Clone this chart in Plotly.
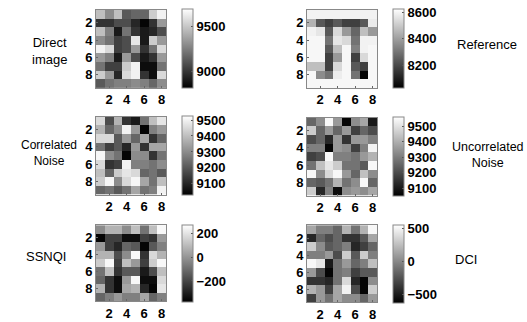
import plotly.graph_objects as go

W, H = 527, 322

direct_image = [
    [9470, 9294, 9470, 9118, 9162, 9162, 9514, 9646],
    [8986, 8986, 9074, 9074, 8942, 8828, 8986, 9338],
    [9470, 9250, 8898, 9206, 8986, 8898, 8942, 9074],
    [9294, 9206, 9030, 9074, 9602, 8898, 9514, 9338],
    [9646, 9558, 9030, 9074, 9338, 8986, 9206, 9558],
    [9338, 9250, 8898, 9338, 9074, 8898, 8986, 9338],
    [9206, 9030, 9030, 9514, 9646, 8854, 8854, 9206],
    [9514, 9338, 8942, 9558, 9646, 8986, 8854, 9558],
    [9118, 9206, 9250, 9250, 9294, 9250, 9162, 9294],
]
reference = [
    [8590, 8590, 8590, 8590, 8590, 8590, 8590, 8590],
    [8443, 8236, 8178, 8236, 8178, 8178, 8236, 8573],
    [8590, 8561, 8236, 8532, 8384, 8266, 8472, 8384],
    [8602, 8602, 8296, 8561, 8532, 8296, 8590, 8590],
    [8602, 8602, 8236, 8472, 8602, 8325, 8590, 8602],
    [8602, 8602, 8178, 8384, 8602, 8178, 8532, 8602],
    [8472, 8472, 8178, 8532, 8602, 8236, 8178, 8602],
    [8602, 8355, 8296, 8579, 8602, 8296, 8042, 8602],
    [8602, 8602, 8602, 8602, 8602, 8602, 8602, 8602],
]
correlated_noise = [
    [9451, 9178, 9377, 9129, 9080, 9253, 9401, 9476],
    [9377, 9228, 9302, 9500, 9327, 9040, 9278, 9327],
    [9451, 9451, 9203, 9327, 9228, 9352, 9129, 9228],
    [9253, 9154, 9203, 9104, 9327, 9129, 9352, 9352],
    [9510, 9302, 9253, 9040, 9302, 9302, 9129, 9253],
    [9451, 9129, 9154, 9500, 9278, 9278, 9253, 9302],
    [9401, 9228, 9426, 9476, 9451, 9228, 9253, 9203],
    [9426, 9510, 9302, 9451, 9510, 9352, 9253, 9401],
    [9228, 9253, 9203, 9253, 9352, 9253, 9278, 9500],
]
uncorrelated_noise = [
    [9254, 9331, 9545, 9356, 9060, 9331, 9382, 9101],
    [9458, 9254, 9356, 9254, 9356, 9178, 9254, 9203],
    [9203, 9254, 9127, 9356, 9152, 9356, 9356, 9305],
    [9305, 9305, 9060, 9356, 9331, 9178, 9305, 9535],
    [9178, 9203, 9545, 9305, 9305, 9280, 9356, 9407],
    [9280, 9433, 9509, 9458, 9280, 9280, 9229, 9545],
    [9545, 9331, 9484, 9545, 9356, 9254, 9433, 9331],
    [9254, 9229, 9280, 9407, 9280, 9331, 9545, 9254],
    [9458, 9127, 9305, 9076, 9331, 9356, 9331, 9382],
]
ssnqi = [
    [-18, 80, 80, -18, 113, -83, 113, 256],
    [-362, -213, -213, -343, -343, -213, -245, 15],
    [15, -213, -278, -115, -148, -362, -148, -50],
    [80, 80, -180, -18, 256, -245, 178, 80],
    [145, 256, -213, 113, 15, -213, 145, 256],
    [-83, 113, -245, -148, -148, -310, -180, 113],
    [-115, -245, -343, 15, 256, -343, -343, 178],
    [80, -245, -343, 48, 80, -278, -362, 210],
    [-115, -50, 15, -50, -50, 48, -115, -50],
]
dci = [
    [145, -33, -33, -151, 205, -92, 205, 524],
    [-447, -151, -270, -151, -388, -388, -210, 145],
    [323, 27, -210, -151, -33, -447, -329, -151],
    [-33, -33, 86, -270, 323, -210, 323, -33],
    [524, 442, -506, -92, 86, -151, -33, 264],
    [86, -270, -601, -92, -33, -329, -210, -210],
    [-388, -388, -447, -92, 382, -447, -601, 27],
    [205, 86, -329, 145, 501, -270, -601, 323],
    [-329, 86, -92, 145, 27, 27, -151, 86],
]

cols = [1, 2, 3, 4, 5, 6, 7, 8]
rows = [1, 2, 3, 4, 5, 6, 7, 8, 9]
axis_ticks = [2, 4, 6, 8]

panels = [
    # data, zmin, zmax, cbar ticks, px box (x0,x1,y0,y1), cbar x
    (direct_image, 8810, 9690, [9000, 9500], (96, 166, 10, 89), 182),
    (reference, 8030, 8620, [8200, 8400, 8600], (307, 377, 10, 89), 393),
    (correlated_noise, 9030, 9525, [9100, 9200, 9300, 9400, 9500], (96, 166, 118, 197), 182),
    (uncorrelated_noise, 9050, 9560, [9100, 9200, 9300, 9400, 9500], (307, 377, 119, 198), 393),
    (ssnqi, -375, 275, [-200, 0, 200], (96, 166, 228, 305), 182),
    (dci, -625, 560, [-500, 0, 500], (307, 377, 228, 306), 393),
]

FONT = "Liberation Sans"
gray = [[0, "black"], [1, "white"]]
TICKFONT = dict(family=FONT, size=13, color="black", weight="bold")

fig = go.Figure()
layout = dict(
    width=W, height=H, margin=dict(l=0, r=0, t=0, b=0),
    paper_bgcolor="white", plot_bgcolor="white", showlegend=False,
    font=dict(family=FONT, color="black"),
)

for i, (z, zmin, zmax, cticks, (x0, x1, y0, y1), cbx) in enumerate(panels):
    n = i + 1
    xa = "x" if n == 1 else f"x{n}"
    ya = "y" if n == 1 else f"y{n}"
    fig.add_trace(go.Heatmap(
        z=z, x=cols, y=rows, xaxis=xa, yaxis=ya,
        colorscale=gray, zmin=zmin, zmax=zmax, hoverinfo="skip",
        colorbar=dict(
            x=cbx / W, xanchor="left", xpad=0, ypad=0,
            y=1 - ((y0 + y1) / 2) / H, yanchor="middle",
            len=(y1 - y0), lenmode="pixels",
            thickness=11, thicknessmode="pixels",
            outlinewidth=1, outlinecolor="#888888",
            tickvals=cticks, ticks="inside", ticklen=2, tickcolor="#555555",
            tickfont=TICKFONT,
        ),
    ))
    xkey = "xaxis" if n == 1 else f"xaxis{n}"
    ykey = "yaxis" if n == 1 else f"yaxis{n}"
    layout[xkey] = dict(
        domain=[x0 / W, x1 / W], anchor=ya, range=[0.5, 8.5],
        tickvals=axis_ticks, ticks="inside", ticklen=2, tickcolor="#666666",
        showline=True, linecolor="#888888", linewidth=1, mirror=True,
        showgrid=False, zeroline=False, tickfont=TICKFONT,
    )
    layout[ykey] = dict(
        domain=[1 - y1 / H, 1 - y0 / H], anchor=xa, range=[9.5, 0.5],
        tickvals=axis_ticks, ticks="inside", ticklen=2, tickcolor="#666666",
        showline=True, linecolor="#888888", linewidth=1, mirror=True,
        showgrid=False, zeroline=False, tickfont=TICKFONT,
    )

labels = [
    ("Direct<br>image", 49, 52, 13),
    ("Reference", 487, 45, 13),
    ("Correlated<br>Noise", 49, 155, 12),
    ("Uncorrelated<br>Noise", 488, 157, 12.5),
    ("SSNQI", 46, 260, 13),
    ("DCI", 466, 263, 13),
]
annotations = []
for text, px, py, fs in labels:
    annotations.append(dict(
        text=text, x=px / W, y=1 - py / H, xref="paper", yref="paper",
        xanchor="center", yanchor="middle", showarrow=False,
        font=dict(family=FONT, size=fs, color="black"), align="center",
    ))
layout["annotations"] = annotations

fig.update_layout(**layout)
fig.write_html(
    "out.html",
    config={"displayModeBar": False},
    post_script="document.body.style.margin='0';document.body.style.overflow='hidden';",
)
